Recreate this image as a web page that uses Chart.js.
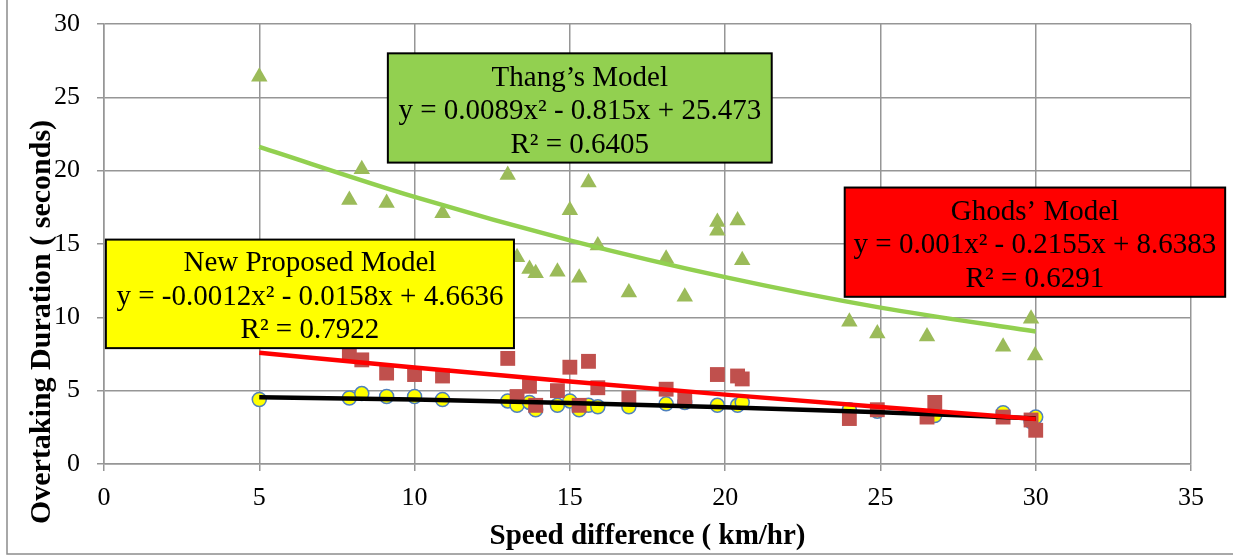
<!DOCTYPE html>
<html>
<head>
<meta charset="utf-8">
<script src="https://cdn.jsdelivr.net/npm/chart.js@4.4.0/dist/chart.umd.min.js"></script>
<style>
  html, body { margin: 0; padding: 0; background: #fff; }
  #chart { display: block; }
</style>
</head>
<body>
<canvas id="chart" width="1233" height="556"></canvas>
<script>
const thangX = [5.0, 7.9, 8.3, 9.1, 10.9, 13.0, 13.3, 13.7, 13.9, 14.6, 15.0, 15.3, 15.6, 15.9,
  16.9, 18.1, 18.7, 19.75, 19.75, 20.4, 20.55, 24.0, 24.9, 26.5, 28.95, 29.85, 29.98];
const thangY = [26.4, 18.0, 20.1, 17.8, 17.1, 19.7, 14.1, 13.3, 13.0, 13.1, 17.3, 12.7, 19.2, 14.9,
  11.7, 14.0, 11.4, 16.5, 15.9, 16.6, 13.9, 9.7, 8.9, 8.7, 8.0, 9.9, 7.4];

const ghodsX = [7.9, 8.3, 9.1, 10.0, 10.9, 13.0, 13.3, 13.7, 13.9, 14.6, 15.0, 15.3, 15.6, 15.9,
  16.9, 18.1, 18.7, 19.75, 20.4, 20.55, 24.0, 24.9, 26.5, 26.75, 28.95, 29.85, 30.0];
const ghodsY = [7.5, 7.1, 6.2, 6.1, 6.0, 7.2, 4.6, 5.3, 4.0, 5.0, 6.6, 4.0, 7.0, 5.2,
  4.5, 5.1, 4.5, 6.1, 6.0, 5.8, 3.1, 3.7, 3.2, 4.2, 3.2, 3.0, 2.3];

const newX = [5.0, 7.9, 8.3, 9.1, 10.0, 10.9, 13.0, 13.3, 13.7, 13.9, 14.6, 15.0, 15.3, 15.6,
  15.9, 16.9, 18.1, 18.7, 19.75, 20.4, 20.55, 24.0, 24.9, 26.75, 28.95, 29.85, 30.0];
const newY = [4.4, 4.5, 4.8, 4.6, 4.6, 4.4, 4.3, 4.0, 4.2, 3.7, 4.0, 4.3, 3.7, 4.0,
  3.9, 3.9, 4.1, 4.2, 4.0, 4.0, 4.2, 3.7, 3.6, 3.3, 3.5, 2.9, 3.2];

// trend lines, read at every 5 km/hr
const trendX = [5, 10, 15, 20, 25, 30];
const thangTrend = [21.62, 18.21, 15.25, 12.74, 10.66, 9.03];
const ghodsTrend = [7.59, 6.58, 5.63, 4.73, 3.88, 3.07];
const newTrend = [4.55, 4.39, 4.16, 3.87, 3.52, 3.11];

const xTicks = [0, 5, 10, 15, 20, 25, 30, 35];
const yTicks = [0, 5, 10, 15, 20, 25, 30];

const thangNote = ['Thang\u2019s Model', 'y = 0.0089x\u00b2 - 0.815x + 25.473', 'R\u00b2 = 0.6405'];
const ghodsNote = ['Ghods\u2019 Model', 'y = 0.001x\u00b2 - 0.2155x + 8.6383', 'R\u00b2 = 0.6291'];
const newNote = ['New Proposed Model', 'y = -0.0012x\u00b2 - 0.0158x + 4.6636', 'R\u00b2 = 0.7922'];

const pts = (xs, ys) => xs.map((x, i) => ({ x: x, y: ys[i] }));

const SERIF = '"Liberation Serif", "Times New Roman", serif';
const GRID = '#969696';

// boxes placed in data units so they follow the scales
const boxes = [
  { lines: thangNote, fill: '#92D050', x0: 9.14, x1: 21.5, y0: 28.0, y1: 20.55 },
  { lines: ghodsNote, fill: '#FF0000', x0: 23.85, x1: 36.1, y0: 18.85, y1: 11.4 },
  { lines: newNote, fill: '#FFFF00', x0: 0.06, x1: 13.2, y0: 15.3, y1: 7.9 }
];

const extras = {
  id: 'extras',
  afterDatasetsDraw(chart) {
    const ctx = chart.ctx;
    const xs = chart.scales.x, ys = chart.scales.y;
    ctx.save();
    boxes.forEach(b => {
      const l = xs.getPixelForValue(b.x0), r = xs.getPixelForValue(b.x1);
      const t = ys.getPixelForValue(b.y0), bt = ys.getPixelForValue(b.y1);
      ctx.fillStyle = b.fill;
      ctx.fillRect(l, t, r - l, bt - t);
      ctx.lineWidth = 2;
      ctx.strokeStyle = '#000';
      ctx.strokeRect(l, t, r - l, bt - t);
      ctx.fillStyle = '#000';
      ctx.font = '29px ' + SERIF;
      ctx.textAlign = 'center';
      ctx.textBaseline = 'middle';
      const cx = (l + r) / 2, cy = (t + bt) / 2;
      b.lines.forEach((s, i) => ctx.fillText(s, cx, cy + (i - 1) * 33.5 + 3.5));
    });
    ctx.restore();
  },
  afterDraw(chart) {
    const ctx = chart.ctx;
    ctx.save();
    // y axis title
    ctx.translate(42, 322);
    ctx.rotate(-Math.PI / 2);
    ctx.font = 'bold 30px ' + SERIF;
    ctx.fillStyle = '#000';
    ctx.textAlign = 'center';
    ctx.textBaseline = 'middle';
    ctx.fillText('Overtaking Duration ( seconds)', 0, 0);
    ctx.restore();
    // outer frame
    ctx.save();
    ctx.strokeStyle = '#8c8c8c';
    ctx.lineWidth = 1.5;
    ctx.strokeRect(7, -5, 1245, 559);
    ctx.restore();
  }
};

new Chart(document.getElementById('chart'), {
  type: 'scatter',
  data: {
    datasets: [
      {
        label: 'Thang trend',
        data: pts(trendX, thangTrend),
        showLine: true,
        borderColor: '#92D050',
        borderWidth: 4.5,
        pointRadius: 0,
        cubicInterpolationMode: 'monotone',
        order: 0
      },
      {
        label: 'Ghods trend',
        data: pts(trendX, ghodsTrend),
        showLine: true,
        borderColor: '#FF0000',
        borderWidth: 4.5,
        pointRadius: 0,
        cubicInterpolationMode: 'monotone',
        order: 1
      },
      {
        label: 'New trend',
        data: pts(trendX, newTrend),
        showLine: true,
        borderColor: '#000000',
        borderWidth: 4.5,
        pointRadius: 0,
        cubicInterpolationMode: 'monotone',
        order: 2
      },
      {
        label: 'Thang',
        data: pts(thangX, thangY),
        pointStyle: 'triangle',
        pointRadius: 9.5,
        backgroundColor: '#9BBB59',
        borderColor: '#9BBB59',
        borderWidth: 0,
        order: 3
      },
      {
        label: 'Ghods',
        data: pts(ghodsX, ghodsY),
        pointStyle: 'rect',
        pointRadius: 10.5,
        backgroundColor: '#C0504D',
        borderColor: '#C0504D',
        borderWidth: 0,
        order: 4
      },
      {
        label: 'New',
        data: pts(newX, newY),
        pointStyle: 'circle',
        pointRadius: 7,
        backgroundColor: '#FFFF00',
        borderColor: '#4F81BD',
        borderWidth: 1.5,
        order: 5
      }
    ]
  },
  options: {
    responsive: false,
    animation: false,
    layout: { padding: { left: 0, right: 42, top: 24, bottom: 0 } },
    plugins: {
      legend: { display: false },
      tooltip: { enabled: false }
    },
    scales: {
      x: {
        type: 'linear',
        min: 0,
        max: 35,
        afterBuildTicks: s => { s.ticks = xTicks.map(v => ({ value: v })); },
        afterFit: s => { s.height = 92; },
        grid: { color: GRID, lineWidth: 1.5, tickLength: 7, tickColor: GRID },
        border: { color: GRID, width: 1.5 },
        ticks: { color: '#000', padding: 12, maxRotation: 0, font: { family: SERIF, size: 26 } },
        title: {
          display: true,
          text: 'Speed difference ( km/hr)',
          color: '#000',
          padding: { top: 0, bottom: 2 },
          font: { family: SERIF, size: 29, weight: 'bold' }
        }
      },
      y: {
        type: 'linear',
        min: 0,
        max: 30,
        afterBuildTicks: s => { s.ticks = yTicks.map(v => ({ value: v })); },
        afterFit: s => { s.width = 104; s.paddingTop = 0; s.paddingBottom = 0; },
        grid: { color: GRID, lineWidth: 1.5, tickLength: 7, tickColor: GRID },
        border: { color: GRID, width: 1.5 },
        ticks: { color: '#000', padding: 17, font: { family: SERIF, size: 26 } }
      }
    }
  },
  plugins: [extras]
});
</script>
</body>
</html>
